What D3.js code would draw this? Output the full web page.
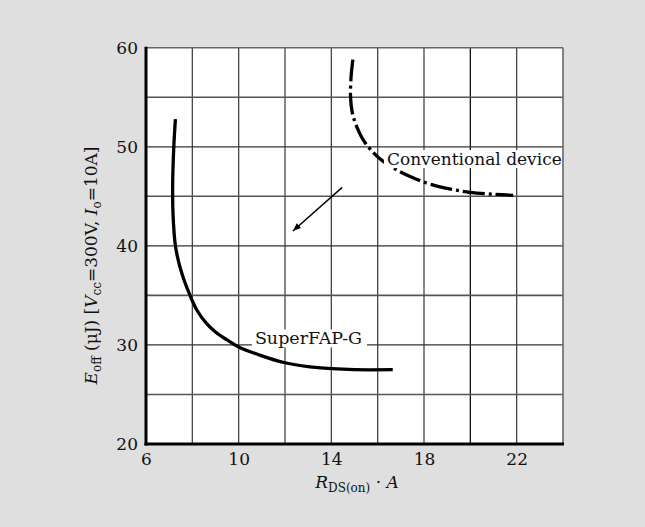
<!DOCTYPE html>
<html><head><meta charset="utf-8">
<script src="https://cdn.jsdelivr.net/npm/d3@7"></script>
<style>body{margin:0;background:#dfdfdf;} svg{display:block;}</style>
</head><body>
<script>
// ---- data ----
const xTicks = [6, 10, 14, 18, 22];
const yTicks = [20, 30, 40, 50, 60];
const xGrid = [8, 10, 12, 14, 16, 18, 20, 22];
const yGridMajor = [30, 40, 50];
const yGridMinor = [25, 35, 45, 55];
const superX = [7.27, 7.2, 7.15, 7.17, 7.27, 7.45, 7.65, 7.9, 8.2, 8.6, 9.0, 9.5, 10, 11, 12, 13, 14, 15, 16.65];
const superY = [52.8, 50, 46, 43, 40, 38, 36.5, 35, 33.5, 32.2, 31.3, 30.5, 29.8, 28.9, 28.2, 27.8, 27.6, 27.5, 27.5];
const convX = [14.93, 14.85, 14.83, 14.9, 15.1, 15.35, 15.7, 16.2, 16.8, 17.5, 18.3, 19.2, 20, 21, 21.85];
const convY = [58.8, 57, 55, 53.5, 52, 50.8, 49.7, 48.6, 47.7, 46.9, 46.2, 45.7, 45.4, 45.2, 45.1];
const arrowFrom = [14.47, 45.9];
const arrowTo = [12.34, 41.5];
const labelConv = {text: "Conventional device", x: 16.4, y: 48.15};
const labelSuper = {text: "SuperFAP-G", x: 10.7, y: 30.05};

const W = 645, H = 527;
const svg = d3.select("body").append("svg").attr("width", W).attr("height", H);
svg.append("rect").attr("width", W).attr("height", H).attr("fill", "#dfdfdf");

const x = d3.scaleLinear().domain([6, 24]).range([146, 563]);
const y = d3.scaleLinear().domain([20, 60]).range([444, 47.7]);
const font = "'DejaVu Serif', serif";

svg.append("rect").attr("x", x(6)).attr("y", y(60)).attr("width", x(24) - x(6)).attr("height", y(20) - y(60)).attr("fill", "#fff");

const g = svg.append("g");
g.selectAll(".vg").data(xGrid).join("line")
  .attr("x1", d => x(d)).attr("x2", d => x(d)).attr("y1", y(60)).attr("y2", y(20))
  .attr("stroke", d => d === 20 ? "#111" : "#444").attr("stroke-width", 1.3);
g.selectAll(".hg").data(yGridMajor).join("line")
  .attr("x1", x(6)).attr("x2", x(24)).attr("y1", d => y(d)).attr("y2", d => y(d))
  .attr("stroke", "#333").attr("stroke-width", 1.3);
g.selectAll(".hm").data(yGridMinor).join("line")
  .attr("x1", x(6)).attr("x2", x(24)).attr("y1", d => y(d)).attr("y2", d => y(d))
  .attr("stroke", "#555").attr("stroke-width", 1.6);

// curves
const line = d3.line().x(d => x(d[0])).y(d => y(d[1])).curve(d3.curveCatmullRom.alpha(0.5));
const superPts = superX.map((v, i) => [v, superY[i]]);
const convPts = convX.map((v, i) => [v, convY[i]]);

// labels with white backgrounds (kept inside plot frame)
function label(l, size, padR) {
  const t = svg.append("text").attr("x", x(l.x)).attr("y", y(l.y))
    .attr("font-family", font).attr("font-size", size).attr("fill", "#111").text(l.text);
  const bb = t.node().getBBox();
  const x0 = bb.x - 3, x1 = Math.min(bb.x + bb.width + padR, x(24));
  svg.insert("rect", () => t.node()).attr("x", x0).attr("y", bb.y + 1).attr("width", x1 - x0).attr("height", bb.height - 2).attr("fill", "#fff");
  return t;
}

svg.append("path").attr("d", line(superPts)).attr("fill", "none").attr("stroke", "#000").attr("stroke-width", 3.3);
svg.append("path").attr("d", line(convPts)).attr("fill", "none").attr("stroke", "#000").attr("stroke-width", 3.3)
  .attr("stroke-dasharray", "22,4,3,4");

label(labelConv, 17, 3);
label(labelSuper, 17.5, 5);

// frame top/right
svg.append("line").attr("x1", x(6)).attr("x2", x(24)).attr("y1", y(60)).attr("y2", y(60)).attr("stroke", "#666").attr("stroke-width", 1.6);
svg.append("line").attr("x1", x(24)).attr("x2", x(24)).attr("y1", y(60)).attr("y2", y(20)).attr("stroke", "#666").attr("stroke-width", 1.6);

// arrow
svg.append("defs").append("marker").attr("id", "ah").attr("viewBox", "0 0 10 10")
  .attr("refX", 10).attr("refY", 5).attr("markerWidth", 13).attr("markerHeight", 8)
  .attr("markerUnits", "userSpaceOnUse").attr("orient", "auto")
  .append("path").attr("d", "M0,1 L10,5 L0,9 Z").attr("fill", "#000");
svg.append("line").attr("x1", x(arrowFrom[0])).attr("y1", y(arrowFrom[1]))
  .attr("x2", x(arrowTo[0])).attr("y2", y(arrowTo[1]))
  .attr("stroke", "#000").attr("stroke-width", 1.4).attr("marker-end", "url(#ah)");

// axes
const ax = svg.append("g").attr("transform", `translate(0,${y(20)})`)
  .call(d3.axisBottom(x).tickValues(xTicks).tickSize(0).tickPadding(9));
const ay = svg.append("g").attr("transform", `translate(${x(6)},0)`)
  .call(d3.axisLeft(y).tickValues(yTicks).tickSize(0).tickPadding(8));
[ax, ay].forEach(a => {
  a.select(".domain").remove();
  a.selectAll("text").attr("font-family", font).attr("font-size", 17).attr("fill", "#111");
});
svg.append("line").attr("x1", x(6)).attr("x2", x(6)).attr("y1", y(60) - 1).attr("y2", y(20) + 1.5).attr("stroke", "#000").attr("stroke-width", 3);
svg.append("line").attr("x1", x(6) - 1.5).attr("x2", x(24) + 1).attr("y1", y(20)).attr("y2", y(20)).attr("stroke", "#000").attr("stroke-width", 3);

// axis titles
const xt = svg.append("text").attr("x", 357).attr("y", 488).attr("text-anchor", "middle")
  .attr("font-family", font).attr("font-size", 17).attr("fill", "#111");
xt.append("tspan").attr("font-style", "italic").text("R");
xt.append("tspan").attr("font-size", 12).attr("dy", 4).text("DS(on)");
xt.append("tspan").attr("dy", -4).text(" · ");
xt.append("tspan").attr("font-style", "italic").text("A");

const yt = svg.append("text").attr("transform", "translate(97,265.5) rotate(-90)").attr("text-anchor", "middle")
  .attr("font-family", font).attr("font-size", 17).attr("fill", "#111");
yt.append("tspan").attr("font-style", "italic").text("E");
yt.append("tspan").attr("font-size", 12).attr("dy", 4).text("off");
yt.append("tspan").attr("dy", -4).text(" (μJ) [");
yt.append("tspan").attr("font-style", "italic").text("V");
yt.append("tspan").attr("font-size", 12).attr("dy", 4).text("cc");
yt.append("tspan").attr("dy", -4).text("=300V, ");
yt.append("tspan").attr("font-style", "italic").text("I");
yt.append("tspan").attr("font-size", 12).attr("dy", 4).text("o");
yt.append("tspan").attr("dy", -4).text("=10A]");
</script>
</body></html>
